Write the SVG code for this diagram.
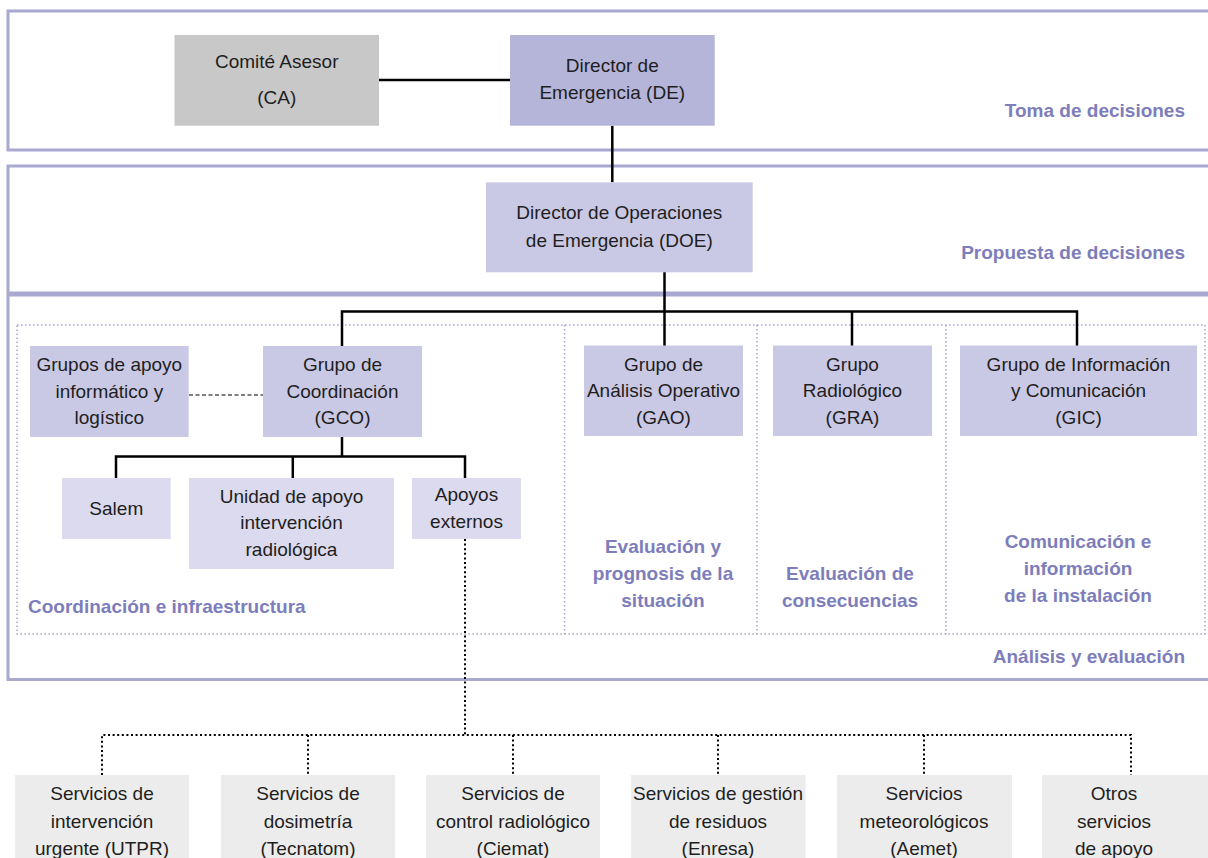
<svg xmlns="http://www.w3.org/2000/svg" width="1208" height="858" viewBox="0 0 1208 858">
<style>
  .frame{fill:none;stroke:#a8a8d1;stroke-width:3}
  .inner{fill:none;stroke:#a8a8d1;stroke-width:1.6;stroke-dasharray:1.6 2.4}
  .t{font-family:"Liberation Sans",Arial,sans-serif;font-size:19px;fill:#1e1e1e;text-anchor:middle}
  .lbl{font-family:"Liberation Sans",Arial,sans-serif;font-size:19px;font-weight:bold;fill:#7d7dbb}
  .c{text-anchor:middle}
  .e{text-anchor:end}
  .ca{fill:#c8c8c8}
  .de{fill:#b5b4d9}
  .grp{fill:#cac9e5}
  .sub{fill:#dcdaee}
  .srv{fill:#ececec}
  .solid{fill:none;stroke:#000;stroke-width:2.5}
  .dash{fill:none;stroke:#000;stroke-width:1.2;stroke-dasharray:4 2.5}
  .dot{fill:none;stroke:#000;stroke-width:2;stroke-dasharray:2 2.6}
</style>
<rect width="1208" height="858" fill="#fff"/>

<g id="frames">
  <path class="frame" d="M1215 11 H8 V150 H1215"/>
  <path class="frame" d="M1215 166 H8 V679.5 H1215"/>
  <line x1="8" y1="294" x2="1215" y2="294" stroke="#a8a8d1" stroke-width="5"/>
  <rect class="inner" x="17" y="325" width="1188" height="309"/>
  <line class="inner" x1="564.5" y1="325" x2="564.5" y2="634"/>
  <line class="inner" x1="757" y1="325" x2="757" y2="634"/>
  <line class="inner" x1="946" y1="325" x2="946" y2="634"/>
</g>

<g id="labels">
  <text class="lbl e" x="1185" y="117">Toma de decisiones</text>
  <text class="lbl e" x="1185" y="259">Propuesta de decisiones</text>
  <text class="lbl e" x="1185" y="663">Análisis y evaluación</text>
  <text class="lbl" x="28" y="613">Coordinación e infraestructura</text>
  <text class="lbl c" x="663" y="553">Evaluación y</text>
  <text class="lbl c" x="663" y="580">prognosis de la</text>
  <text class="lbl c" x="663" y="606.5">situación</text>
  <text class="lbl c" x="850" y="580">Evaluación de</text>
  <text class="lbl c" x="850" y="606.5">consecuencias</text>
  <text class="lbl c" x="1078" y="548">Comunicación e</text>
  <text class="lbl c" x="1078" y="575">información</text>
  <text class="lbl c" x="1078" y="601.5">de la instalación</text>
</g>

<g id="connectors">
  <line class="solid" x1="379" y1="80" x2="510" y2="80"/>
  <line class="solid" x1="612.3" y1="125.7" x2="612.3" y2="182.3"/>
  <line class="solid" x1="664.5" y1="272" x2="664.5" y2="311.5"/>
  <path class="solid" d="M342 346 V311.5 H1077 V346"/>
  <line class="solid" x1="664.5" y1="311.5" x2="664.5" y2="346"/>
  <line class="solid" x1="852" y1="311.5" x2="852" y2="346"/>
  <line class="solid" x1="342" y1="437" x2="342" y2="456.5"/>
  <path class="solid" d="M116 478 V456.5 H465 V478"/>
  <line class="solid" x1="292.8" y1="456.5" x2="292.8" y2="478"/>
  <line class="dash" x1="189" y1="395" x2="263" y2="395"/>
  <line class="dot" x1="465" y1="539" x2="465" y2="735"/>
  <path class="dot" d="M102 775 V735 H1131 V775"/>
  <line class="dot" x1="308" y1="735" x2="308" y2="775"/>
  <line class="dot" x1="513" y1="735" x2="513" y2="775"/>
  <line class="dot" x1="718" y1="735" x2="718" y2="775"/>
  <line class="dot" x1="924" y1="735" x2="924" y2="775"/>
</g>

<g id="CA">
  <rect class="ca" x="174.5" y="35" width="204.5" height="90.7"/>
  <text class="t" x="276.7" y="68.3">Comité Asesor</text>
  <text class="t" x="276.7" y="103.5">(CA)</text>
</g>
<g id="DE">
  <rect class="de" x="510" y="35" width="204.7" height="90.7"/>
  <text class="t" x="612.3" y="72.3">Director de</text>
  <text class="t" x="612.3" y="99">Emergencia (DE)</text>
</g>
<g id="DOE">
  <rect class="grp" x="486" y="182.3" width="266.7" height="90"/>
  <text class="t" x="619.3" y="219">Director de Operaciones</text>
  <text class="t" x="619.3" y="246.5">de Emergencia (DOE)</text>
</g>

<g id="GAPOYO">
  <rect class="grp" x="30" y="346" width="158.7" height="91"/>
  <text class="t" x="109.3" y="371">Grupos de apoyo</text>
  <text class="t" x="109.3" y="397.5">informático y</text>
  <text class="t" x="109.3" y="424">logístico</text>
</g>
<g id="GCO">
  <rect class="grp" x="263" y="346" width="159" height="91"/>
  <text class="t" x="342.5" y="371">Grupo de</text>
  <text class="t" x="342.5" y="397.5">Coordinación</text>
  <text class="t" x="342.5" y="424">(GCO)</text>
</g>
<g id="GAO">
  <rect class="grp" x="584" y="345.5" width="159" height="90.5"/>
  <text class="t" x="663.5" y="370.5">Grupo de</text>
  <text class="t" x="663.5" y="397">Análisis Operativo</text>
  <text class="t" x="663.5" y="423.5">(GAO)</text>
</g>
<g id="GRA">
  <rect class="grp" x="773" y="345.5" width="159" height="90.5"/>
  <text class="t" x="852.5" y="370.5">Grupo</text>
  <text class="t" x="852.5" y="397">Radiológico</text>
  <text class="t" x="852.5" y="423.5">(GRA)</text>
</g>
<g id="GIC">
  <rect class="grp" x="960" y="345.5" width="237" height="90.5"/>
  <text class="t" x="1078.5" y="370.5">Grupo de Información</text>
  <text class="t" x="1078.5" y="397">y Comunicación</text>
  <text class="t" x="1078.5" y="423.5">(GIC)</text>
</g>

<g id="SALEM">
  <rect class="sub" x="62" y="478" width="108.7" height="61"/>
  <text class="t" x="116.3" y="514.5">Salem</text>
</g>
<g id="UNIDAD">
  <rect class="sub" x="189" y="478" width="205" height="91"/>
  <text class="t" x="291.5" y="502.5">Unidad de apoyo</text>
  <text class="t" x="291.5" y="529">intervención</text>
  <text class="t" x="291.5" y="555.5">radiológica</text>
</g>
<g id="APOYOS">
  <rect class="sub" x="412" y="478" width="109" height="61"/>
  <text class="t" x="466.5" y="501">Apoyos</text>
  <text class="t" x="466.5" y="527.5">externos</text>
</g>

<g id="S1">
  <rect class="srv" x="15" y="775" width="174" height="90"/>
  <text class="t" x="102" y="800">Servicios de</text>
  <text class="t" x="102" y="828">intervención</text>
  <text class="t" x="102" y="855">urgente (UTPR)</text>
</g>
<g id="S2">
  <rect class="srv" x="221" y="775" width="174" height="90"/>
  <text class="t" x="308" y="800">Servicios de</text>
  <text class="t" x="308" y="828">dosimetría</text>
  <text class="t" x="308" y="855">(Tecnatom)</text>
</g>
<g id="S3">
  <rect class="srv" x="426" y="775" width="174" height="90"/>
  <text class="t" x="513" y="800">Servicios de</text>
  <text class="t" x="513" y="828">control radiológico</text>
  <text class="t" x="513" y="855">(Ciemat)</text>
</g>
<g id="S4">
  <rect class="srv" x="631" y="775" width="174.5" height="90"/>
  <text class="t" x="718" y="800">Servicios de gestión</text>
  <text class="t" x="718" y="828">de residuos</text>
  <text class="t" x="718" y="855">(Enresa)</text>
</g>
<g id="S5">
  <rect class="srv" x="837" y="775" width="175" height="90"/>
  <text class="t" x="924" y="800">Servicios</text>
  <text class="t" x="924" y="828">meteorológicos</text>
  <text class="t" x="924" y="855">(Aemet)</text>
</g>
<g id="S6">
  <rect class="srv" x="1042" y="775" width="175" height="90"/>
  <text class="t" x="1114" y="800">Otros</text>
  <text class="t" x="1114" y="828">servicios</text>
  <text class="t" x="1114" y="855">de apoyo</text>
</g>
</svg>
